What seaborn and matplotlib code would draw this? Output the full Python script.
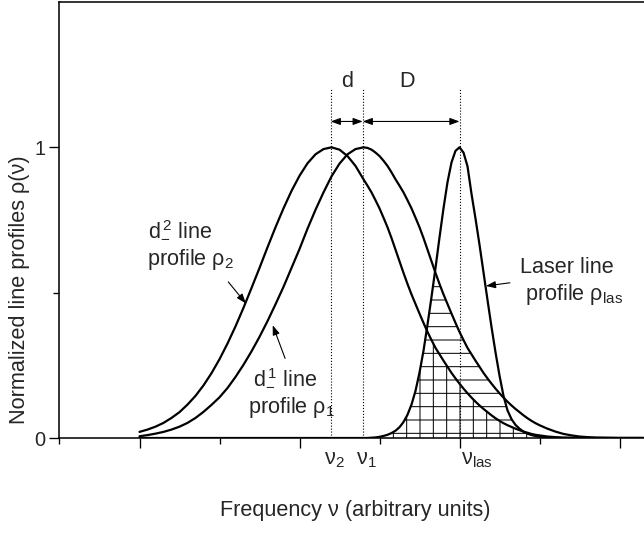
import numpy as np
import pandas as pd
import seaborn as sns
import matplotlib.pyplot as plt

# sampled frequency grid (arbitrary units): finer around the laser line
freq = np.round(np.concatenate([np.arange(1.0, 3.85, 0.1),
                                np.arange(3.85, 6.17, 0.05),
                                np.arange(6.2, 7.35, 0.1)]), 2)

# profiles
rho_2 = [0.021, 0.029, 0.039, 0.052, 0.069, 0.089, 0.115, 0.145, 0.181, 0.223,
         0.271, 0.325, 0.384, 0.448, 0.516, 0.585, 0.656, 0.725, 0.790, 0.850,
         0.902, 0.945, 0.976, 0.994, 1.000, 0.992, 0.970, 0.936, 0.890,
         0.868, 0.845, 0.818, 0.790, 0.758, 0.725, 0.688, 0.648, 0.608, 0.568,
         0.530, 0.494, 0.461, 0.428, 0.396, 0.365, 0.337, 0.310, 0.288, 0.266,
         0.245, 0.224, 0.205, 0.187, 0.170, 0.154, 0.139, 0.125, 0.112, 0.100,
         0.089, 0.078, 0.068, 0.059, 0.051, 0.044, 0.038, 0.032, 0.027, 0.022,
         0.018, 0.014, 0.011, 0.009, 0.007, 0.005, 0.004,
         0.003, 0.0015, 0.001, 0.0005, 0, 0, 0, 0, 0, 0, 0, 0]

rho_1 = [0.006, 0.010, 0.015, 0.021, 0.029, 0.039, 0.052, 0.069, 0.090, 0.114,
         0.140, 0.172, 0.210, 0.252, 0.298, 0.348, 0.402, 0.460, 0.520, 0.585,
         0.650, 0.720, 0.785, 0.845, 0.900, 0.944, 0.976, 0.994, 1.000,
         0.998, 0.992, 0.982, 0.970, 0.954, 0.936, 0.914, 0.890, 0.868, 0.845,
         0.818, 0.790, 0.758, 0.725, 0.688, 0.648, 0.608, 0.568, 0.530, 0.494,
         0.461, 0.428, 0.396, 0.365, 0.337, 0.310, 0.288, 0.266, 0.245, 0.224,
         0.205, 0.187, 0.170, 0.154, 0.139, 0.125, 0.112, 0.100, 0.089, 0.078,
         0.068, 0.059, 0.051, 0.044, 0.038, 0.032, 0.027,
         0.022, 0.014, 0.009, 0.005, 0.003, 0.0015, 0.001, 0.0005, 0, 0, 0, 0]

rho_las = [0, 0, 0, 0, 0, 0, 0, 0, 0, 0,
           0, 0, 0, 0, 0, 0, 0, 0, 0, 0,
           0, 0, 0, 0, 0, 0, 0, 0, 0,
           0, 0.001, 0.002, 0.004, 0.007, 0.011, 0.017, 0.025, 0.037, 0.055,
           0.080, 0.115, 0.162, 0.225, 0.300, 0.390, 0.485, 0.585, 0.690, 0.790,
           0.880, 0.948, 0.988, 1.000, 0.982, 0.935, 0.840, 0.755, 0.665, 0.570,
           0.475, 0.382, 0.295, 0.215, 0.145, 0.095, 0.065, 0.045, 0.032, 0.022,
           0.015, 0.010, 0.007, 0.004, 0.002, 0.001, 0,
           0, 0, 0, 0, 0, 0, 0, 0, 0, 0, 0, 0]

nu_pos = [3.39, 3.79, 5.0]
nu_labels = ["ν$_2$", "ν$_1$", "ν$_{las}$"]
nu_dx = [-6, -6, 1]          # label offsets in points
sep_labels = ["d", "D"]
sep_x = [3.6, 4.34]

FS = 19.5


def main():
    sns.set_theme(style="ticks")
    plt.rcParams["font.family"] = ["Liberation Sans", "DejaVu Sans"]
    plt.rcParams["mathtext.fontset"] = "custom"
    plt.rcParams["mathtext.rm"] = "Liberation Sans"
    plt.rcParams["mathtext.default"] = "regular"
    plt.rcParams["hatch.linewidth"] = 0.9

    fig = plt.figure(figsize=(644 / 80, 535 / 80), dpi=80)
    ax = fig.add_axes([59.5 / 644, 97 / 535, 640 / 644, 436 / 535])

    df = pd.DataFrame({
        "freq": np.tile(freq, 3),
        "rho": np.concatenate([rho_1, rho_2, rho_las]),
        "profile": np.repeat(["rho1", "rho2", "las"], len(freq)),
    })

    # overlap areas: horizontal hatch under rho1/laser, vertical under rho2/laser
    ax.fill_between(freq, 0, np.minimum(rho_1, rho_las), facecolor="none",
                    edgecolor="black", hatch="-", linewidth=0)
    ax.fill_between(freq, 0, np.minimum(rho_2, rho_las), facecolor="none",
                    edgecolor="black", hatch="|", linewidth=0)

    sns.lineplot(data=df, x="freq", y="rho", hue="profile",
                 palette={"rho1": "black", "rho2": "black", "las": "black"},
                 linewidth=2, legend=False, ax=ax)

    ax.vlines(nu_pos, 0, 1.2, colors="black", linestyles=":", linewidth=1)

    arr = dict(arrowstyle="<|-|>,head_length=0.6,head_width=0.22",
               color="black", lw=1, shrinkA=0, shrinkB=0, mutation_scale=12)
    for a, b in zip(nu_pos[:-1], nu_pos[1:]):
        ax.annotate("", xy=(b, 1.089), xytext=(a, 1.089), arrowprops=arr)
    for lab, x in zip(sep_labels, sep_x):
        ax.text(x, 1.207, lab, ha="center", va="baseline", fontsize=FS)

    for lab, x, dx in zip(nu_labels, nu_pos, nu_dx):
        ax.annotate(lab, xy=(x, 0), xytext=(dx, -23.4), textcoords="offset points",
                    ha="left", va="baseline", fontsize=FS)

    one = dict(arrowstyle="-|>,head_length=0.6,head_width=0.22", color="black",
               lw=1, shrinkA=0, shrinkB=0, mutation_scale=12)
    ax.annotate("", xy=(2.33, 0.463), xytext=(2.11, 0.537), arrowprops=one)
    ax.annotate("", xy=(2.665, 0.388), xytext=(2.82, 0.274), arrowprops=one)
    ax.annotate("", xy=(5.33, 0.523), xytext=(5.63, 0.534), arrowprops=one)

    ax.text(1.106, 0.698, "d$_{-}^{\\,2}$ line", fontsize=FS, va="baseline")
    ax.text(1.094, 0.594, "profile ρ$_2$", fontsize=FS, va="baseline")
    ax.text(2.419, 0.189, "d$_{-}^{\\,1}$ line", fontsize=FS, va="baseline")
    ax.text(2.356, 0.086, "profile ρ$_1$", fontsize=FS, va="baseline")
    ax.text(5.75, 0.567, "Laser line", fontsize=FS, va="baseline")
    ax.text(5.82, 0.474, "profile ρ$_{las}$", fontsize=FS, va="baseline")

    ax.set_xlim(0, 8)
    ax.set_ylim(0, 1.5)
    ax.set_xticks([1, 3, 5, 7])
    ax.set_xticks([0, 2, 4, 6, 8], minor=True)
    ax.set_yticks([0, 1], labels=["0", "1"])
    ax.set_yticks([0.5], minor=True)
    ax.tick_params(which="major", length=9, width=1.2, direction="out",
                   labelsize=18, color="black")
    ax.tick_params(which="minor", length=5, width=1.2, direction="out", color="black")
    ax.tick_params(axis="x", labelbottom=False)
    for sp in ax.spines.values():
        sp.set_linewidth(1.4)
        sp.set_color("black")

    ax.set_xlabel("Frequency ν (arbitrary units)", fontsize=FS, va="top")
    ax.xaxis.set_label_coords(0.4617, -0.142)
    ax.set_ylabel("Normalized line profiles ρ(ν)", fontsize=FS)
    ax.yaxis.set_label_coords(-0.046, 0.34)

    fig.savefig("out.png", dpi=80)


if __name__ == "__main__":
    main()
